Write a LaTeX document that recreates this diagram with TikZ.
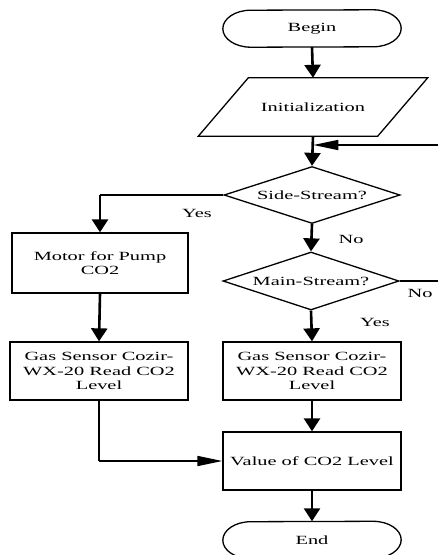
\documentclass[tikz,border=0pt]{standalone}
\usepackage{fontspec}
\setmainfont[FakeStretch=1.63]{Liberation Serif}
\usetikzlibrary{arrows.meta,shapes.geometric,calc}
\newcommand\drawstadium[1]{%
  \draw[shapeline] ([xshift=-28pt]#1.north east)
    arc[start angle=90,end angle=-90,x radius=28pt,y radius=18.5pt]
    -- ([xshift=28pt]#1.south west)
    arc[start angle=270,end angle=90,x radius=28pt,y radius=18.5pt] -- cycle;}
\tikzset{
  txt/.style={font=\fontsize{12.5}{14.5}\selectfont, align=center, inner sep=0pt},
  shapeline/.style={line width=1.3pt},
  procbox/.style={txt, draw, shapeline, minimum width=178pt, minimum height=58pt},
  termbox/.style={txt, minimum width=178pt, minimum height=37pt},
  decbox/.style={txt, diamond, draw, shapeline, aspect=3, minimum width=176pt, minimum height=57pt},
  lbl/.style={txt},
  vline/.style={line width=2.6pt, -{Triangle[length=13pt,width=16pt]}},
  vplain/.style={line width=2.6pt},
  hline/.style={line width=1.6pt},
  harrow/.style={line width=1.6pt, -{Triangle[length=25pt,width=10pt]}}
}
\begin{document}
\begin{tikzpicture}[x=1pt,y=-1pt]
\useasboundingbox (0,0) rectangle (438,555);
\clip (0,0) rectangle (438,555);
\fill[white] (0,0) rectangle (438,555);

% nodes
\node[termbox] (begin) at (312,28.5) {Begin};
\drawstadium{begin}
\node[txt, minimum width=179pt, minimum height=58pt] (init) at (313,107) {Initialization};
\draw[shapeline] ([xshift=25pt]init.north west) -- ([xshift=25pt]init.north east)
  -- ([xshift=-25pt]init.south east) -- ([xshift=-25pt]init.south west) -- cycle;
\coordinate (fb) at (313.3,145);
\node[decbox] (ss) at (312,195) {Side-Stream?};
\node[decbox, minimum height=58pt] (ms) at (311,281) {Main-Stream?};
\node[procbox, minimum width=176pt, minimum height=60pt] (motor) at (100,263) {Motor for Pump\\CO2};
\node[procbox] (ls) at (99,371) {Gas Sensor Cozir-\\WX-20 Read CO2\\Level};
\node[procbox] (rs) at (312,371) {Gas Sensor Cozir-\\WX-20 Read CO2\\Level};
\node[procbox] (val) at (312,461) {Value of CO2 Level};
\node[termbox] (end) at (312,540) {End};
\drawstadium{end}

% labels
\node[lbl] (yes1) at (197,213) {Yes};
\node[lbl] (no1) at (351,239) {No};
\node[lbl] (no2) at (420,293) {No};
\node[lbl] (yes2) at (375,322) {Yes};

% connectors
\draw[vline] (begin.south) -- (init.north);
\draw[vline] (init.south) -- (ss.north);
\draw[harrow] (ms.east) -- ++(60,0) |- (fb);
\draw[hline] (ss.west) -- (ss.west -| motor.north);
\draw[vline] (ss.west -| motor.north) -- (motor.north);
\draw[vline] (ss.south) -- (ms.north);
\draw[vline] (ms.south) -- (rs.north);
\draw[vline] (motor.south) -- (ls.north);
\draw[vplain] (ls.south) -- (ls.south |- val.west);
\draw[harrow] (ls.south |- val.west) -- (val.west);
\draw[vline] (rs.south) -- (val.north);
\draw[vline] (val.south) -- (end.north);
\end{tikzpicture}
\end{document}
